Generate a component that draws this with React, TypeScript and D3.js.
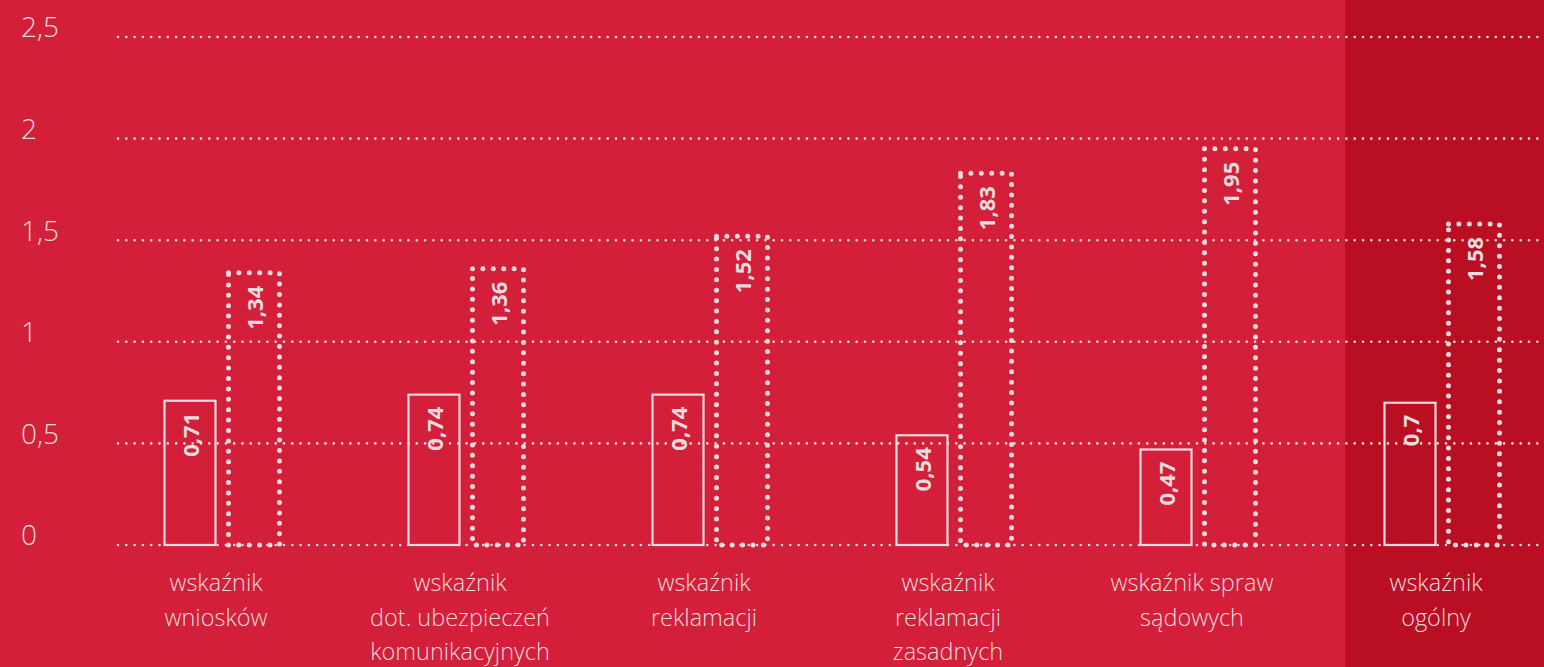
import React from "react";
import * as d3 from "d3";

const categories = [
  ["wskaźnik", "wniosków"],
  ["wskaźnik", "dot. ubezpieczeń", "komunikacyjnych"],
  ["wskaźnik", "reklamacji"],
  ["wskaźnik", "reklamacji", "zasadnych"],
  ["wskaźnik spraw", "sądowych"],
  ["wskaźnik", "ogólny"],
];
const seriesA = [0.71, 0.74, 0.74, 0.54, 0.47, 0.7];
const seriesB = [1.34, 1.36, 1.52, 1.83, 1.95, 1.58];
const yTicks = [0, 0.5, 1, 1.5, 2, 2.5];

const W = 1544;
const H = 667;
const BG = "#D31F3A";
const BG_DARK = "#BA0E22";
const FG = "#E8DCDE";
const FONT = "'Open Sans', 'Noto Sans', sans-serif";

const fmt = (v: number) => String(v).replace(".", ",");

export default function App() {
  const y = d3.scaleLinear().domain([0, 2.5]).range([545, 37]);
  const x = d3
    .scaleBand<number>()
    .domain(d3.range(categories.length))
    .range([100, 1564])
    .padding(0);
  const barW = 51;
  const gap = 13;

  return (
    <svg
      width={W}
      height={H}
      style={{ position: "absolute", left: 0, top: 0, display: "block" }}
    >
      <rect x={0} y={0} width={W} height={H} fill={BG} />
      <rect
        x={(x(5) as number) + x.bandwidth() / 2 - 97}
        y={0}
        width={W}
        height={H}
        fill={BG_DARK}
      />
      {yTicks.map((t) => (
        <g key={t}>
          <line
            x1={118}
            x2={W}
            y1={y(t)}
            y2={y(t)}
            stroke={FG}
            strokeWidth={2.6}
            strokeLinecap="round"
            strokeDasharray="0 8.3"
          />
          <text
            x={21}
            y={y(t) - 7}
            fill={FG}
            fontFamily={FONT}
            fontWeight={300}
            fontSize={28}
            dominantBaseline="middle"
          >
            {fmt(t)}
          </text>
        </g>
      ))}
      {categories.map((lines, i) => {
        const cx = (x(i) as number) + x.bandwidth() / 2;
        const ax = cx - gap / 2 - barW;
        const bx = cx + gap / 2;
        const ya = y(seriesA[i]);
        const yb = y(seriesB[i]);
        return (
          <g key={i}>
            <rect
              x={ax}
              y={ya}
              width={barW}
              height={y(0) - ya}
              fill="none"
              stroke={FG}
              strokeWidth={2.2}
            />
            <text
              transform={`translate(${ax + barW / 2},${ya + 12}) rotate(-90)`}
              textAnchor="end"
              dominantBaseline="central"
              fill={FG}
              fontFamily={FONT}
              fontWeight={700}
              fontSize={22}
            >
              {fmt(seriesA[i])}
            </text>
            <rect
              x={bx}
              y={yb}
              width={barW}
              height={y(0) - yb}
              fill="none"
              stroke={FG}
              strokeWidth={5}
              strokeLinecap="round"
              strokeDasharray="0 10.4"
            />
            <text
              transform={`translate(${bx + barW / 2},${yb + 13}) rotate(-90)`}
              textAnchor="end"
              dominantBaseline="central"
              fill={FG}
              fontFamily={FONT}
              fontWeight={700}
              fontSize={22}
            >
              {fmt(seriesB[i])}
            </text>
            {lines.map((l, j) => (
              <text
                key={j}
                x={cx - 6}
                y={585 + j * 34.5}
                textAnchor="middle"
                dominantBaseline="middle"
                fill={FG}
                fontFamily={FONT}
                fontWeight={300}
                fontSize={23.5}
              >
                {l}
              </text>
            ))}
          </g>
        );
      })}
    </svg>
  );
}
